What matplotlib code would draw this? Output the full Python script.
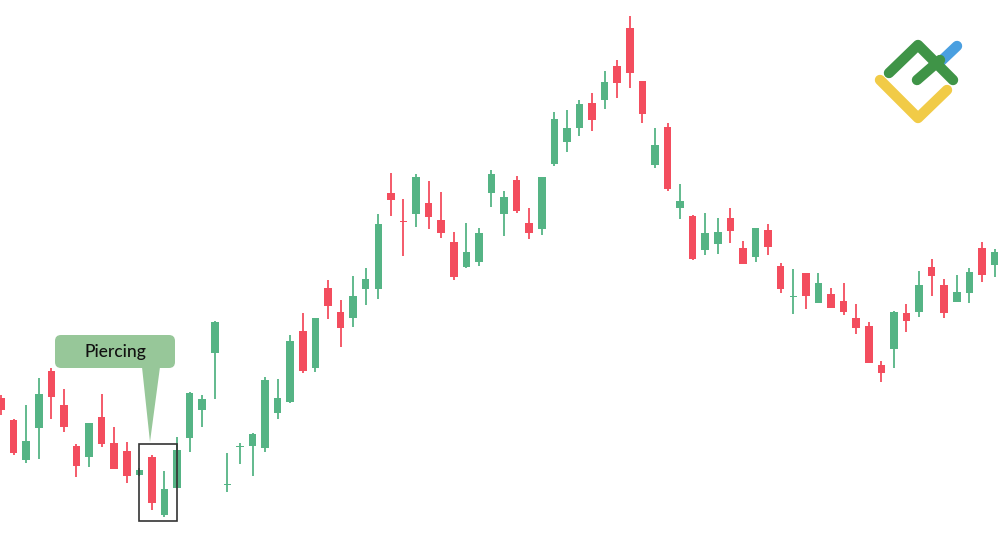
import matplotlib
matplotlib.use('Agg')
import matplotlib.pyplot as plt
import numpy as np
from matplotlib.patches import FancyBboxPatch, Polygon, Rectangle

# OHLC values (arbitrary price units)
opens = [149, 127, 87, 119, 176, 142, 101, 90, 130, 104, 96, 72, 90, 32, 59, 109, 137, 194, 62, 100,
         101, 99, 134, 145, 216, 179, 259, 235, 229, 258, 258, 354, 326, 333, 344, 327, 305, 280, 285, 354,
         333, 367, 324, 318, 383, 405, 419, 444, 447, 481, 519, 466, 382, 420, 339, 331, 297, 303, 329, 299,
         290, 317, 281, 250, 274, 244, 253, 246, 229, 221, 182, 198, 234, 235, 280, 262, 245, 254, 299, 282]
highs = [152, 128, 142, 169, 179, 158, 103, 124, 153, 120, 105, 79, 92, 76, 110, 155, 152, 226, 94, 104,
         114, 170, 168, 212, 234, 229, 267, 247, 271, 279, 333, 374, 348, 373, 366, 355, 315, 324, 319, 377,
         356, 371, 339, 370, 435, 437, 447, 454, 476, 487, 531, 466, 419, 424, 363, 332, 334, 329, 339, 306,
         319, 323, 284, 278, 274, 274, 259, 264, 243, 225, 186, 236, 243, 276, 288, 268, 272, 279, 305, 298]
lows = [132, 92, 84, 88, 128, 115, 70, 80, 100, 78, 64, 71, 37, 30, 59, 95, 120, 148, 55, 83,
        71, 95, 128, 144, 174, 175, 228, 200, 220, 242, 248, 331, 291, 320, 318, 309, 267, 279, 281, 340,
        311, 334, 308, 312, 381, 395, 411, 416, 438, 449, 459, 424, 379, 356, 328, 287, 292, 293, 304, 283,
        285, 292, 254, 233, 238, 244, 239, 232, 213, 184, 165, 179, 215, 230, 251, 229, 245, 244, 265, 270]
closes = [137, 94, 106, 153, 150, 120, 81, 124, 103, 78, 71, 77, 44, 58, 97, 154, 148, 225, 63, 101,
          113, 167, 149, 206, 176, 229, 241, 219, 251, 268, 323, 347, 325, 370, 330, 314, 270, 295, 314, 373,
          350, 336, 314, 370, 428, 419, 443, 427, 465, 464, 474, 433, 402, 358, 346, 288, 314, 315, 316, 283,
          319, 300, 258, 251, 251, 264, 239, 235, 219, 184, 174, 235, 226, 262, 271, 234, 255, 275, 272, 295]

pattern_label = 'Piercing'

UP = '#55b485'
DOWN = '#f34d5e'

x = np.arange(len(opens))
o = np.array(opens, dtype=float)
c = np.array(closes, dtype=float)
h = np.array(highs, dtype=float)
l = np.array(lows, dtype=float)
cols = [UP if cc >= oo else DOWN for oo, cc in zip(o, c)]

fig = plt.figure(figsize=(10, 5.47), dpi=100)
ax = fig.add_axes([0, 0, 1, 1])
step = 12.576  # px per candle
ax.set_xlim(-1 / step, 999 / step)
ax.set_ylim(0, 547)
ax.set_axis_off()

ax.vlines(x, l, h, colors=cols, linewidth=1.3, zorder=1)
body = np.maximum(np.abs(c - o), 1.5)
ax.bar(x, body, bottom=np.minimum(o, c), width=0.6, color=cols, linewidth=0, zorder=2)

# highlight box around the pattern
ax.add_patch(Rectangle((11, 26), 3, 77, fill=False, edgecolor='#333333', linewidth=1.2, zorder=3))

# overlay in pixel coords for callout and logo
deco = fig.add_axes([0, 0, 1, 1], facecolor='none')
deco.set_xlim(0, 1000)
deco.set_ylim(547, 0)
deco.set_axis_off()

bub = '#97c799'
deco.add_patch(FancyBboxPatch((55, 335), 120, 33, boxstyle='round,pad=0,rounding_size=6',
                              facecolor=bub, edgecolor='none'))
deco.add_patch(Polygon([(142, 367), (160, 367), (150, 442)], closed=True, facecolor=bub, edgecolor='none'))
deco.text(115, 351.5, pattern_label, ha='center', va='center', fontsize=12.5,
          family='Lato', fontweight='medium', color='#111111')

# logo
lw = 7.5
deco.plot([880, 918, 947], [80, 118, 90], color='#f1cb47', lw=lw, solid_capstyle='round')
deco.plot([938, 957], [64, 46], color='#4a9fe0', lw=lw, solid_capstyle='round')
deco.plot([889, 918, 953], [73, 45, 80], color='#3f9447', lw=lw, solid_capstyle='round',
          solid_joinstyle='round')
deco.plot([917, 940], [80, 60], color='#3f9447', lw=lw, solid_capstyle='round')

fig.savefig('out.png', dpi=100, facecolor='white')
